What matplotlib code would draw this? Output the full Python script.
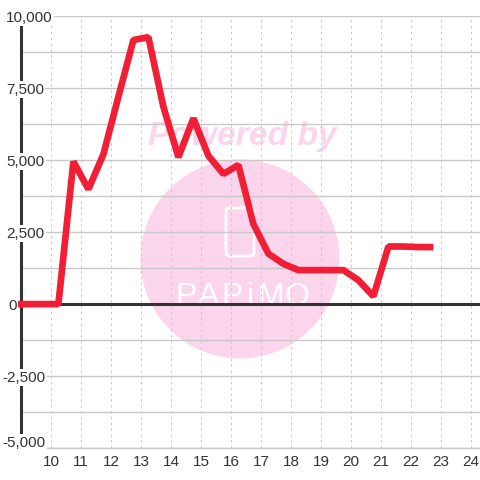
#!/usr/bin/env python3
import matplotlib
matplotlib.use('Agg')
import matplotlib.pyplot as plt
from matplotlib.patches import Circle, FancyBboxPatch

hours = [8.9, 10.25, 10.75, 11.25, 11.75, 12.25, 12.75, 13.25, 13.75, 14.25, 14.75,
         15.25, 15.75, 16.25, 16.75, 17.25, 17.75, 18.25, 18.75, 19.25, 19.75,
         20.25, 20.75, 21.25, 21.75, 22.25, 22.75]
values = [0, 0, 4950, 3990, 5200, 7200, 9170, 9270, 6850, 5100, 6450,
          5150, 4520, 4830, 2780, 1750, 1400, 1180, 1180, 1180, 1180,
          830, 270, 2000, 2000, 1980, 1980]

x_ticks = list(range(10, 25))
y_major = [-5000, -2500, 0, 2500, 5000, 7500, 10000]
y_minor = [-3750, -1250, 1250, 3750, 6250, 8750]
y_labels = ['-5,000', '-2,500', '0', '2,500', '5,000', '7,500', '10,000']
wm_letters = ['P', 'A', 'P', 'i', 'M', 'O']
wm_letter_px = [186, 209, 232, 250, 271, 297]

W = 480
LEFT, TOP, BOTTOM = 20.9, 16.1, 448.1
plt.rcParams['font.family'] = ['Liberation Sans', 'DejaVu Sans']
fig = plt.figure(figsize=(4.8, 4.8), dpi=100)
ax = fig.add_axes([LEFT / W, (W - BOTTOM) / W, (W - LEFT) / W, (BOTTOM - TOP) / W])
ax.set_xlim(9, 9 + (W - LEFT) / 30)
ax.set_ylim(-5000, 10000)
ax.patch.set_visible(False)

# watermark sits behind the axes
pink = '#fbd5ec'
fig.add_artist(Circle((240 / W, 1 - 259 / W), 99.5 / W, color=pink, lw=0, zorder=-5,
                      transform=fig.transFigure))
fig.text(242 / W, 1 - 137 / W, 'Powered by', color=pink, fontsize=24.2, fontweight='bold',
         fontstyle='italic', ha='center', va='center', zorder=-5)
fig.add_artist(FancyBboxPatch((226 / W, 1 - 256 / W), 28 / W, 48 / W,
                              boxstyle='round,pad=0,rounding_size=0.008', fc='none',
                              ec='white', lw=2, zorder=-4, transform=fig.transFigure))
for letter, px in zip(wm_letters, wm_letter_px):
    fig.text(px / W, 1 - 305 / W, letter, color='white', fontsize=23, ha='center',
             va='baseline', zorder=-4)

ax.set_xticks(x_ticks)
ax.set_yticks(y_major)
ax.set_yticks(y_minor, minor=True)
ax.set_yticklabels([])
ax.tick_params(axis='both', which='both', length=0)
ax.tick_params(axis='x', labelsize=11, labelcolor='#333333', pad=5)
ax.grid(True, axis='x', color='#c8c8c8', linewidth=0.7, linestyle=(0, (2.5, 3.5)))
ax.grid(True, axis='y', which='both', color='#c8c8c8', linewidth=1)
ax.set_axisbelow(True)

for side in ['top', 'right']:
    ax.spines[side].set_visible(False)
ax.spines['bottom'].set_color('#c8c8c8')
ax.spines['bottom'].set_linewidth(1)
ax.spines['left'].set_color('#333333')
ax.spines['left'].set_linewidth(2.2)

ax.axhline(0, color='#333333', linewidth=2.2, zorder=2)
ax.plot(hours, values, color='#f01f35', linewidth=4.8, solid_joinstyle='bevel',
        solid_capstyle='butt', clip_on=False, zorder=3)

# y labels sit on top of the axis line and hide it
for v, lab in zip(y_major, y_labels):
    left_px = 2 if v < 0 else (8 if v == 0 else 6)
    up_px = 7 if v == -5000 else 0
    ax.annotate(lab, xy=(0, v), xycoords=('axes fraction', 'data'),
                xytext=((left_px - LEFT) * 0.72, up_px * 0.72), textcoords='offset points',
                ha='left', va='center_baseline', fontsize=11, color='#333333', zorder=5,
                annotation_clip=False,
                bbox=dict(facecolor='white', edgecolor='none', pad=1))

fig.savefig('out.png', dpi=100, facecolor='white')
